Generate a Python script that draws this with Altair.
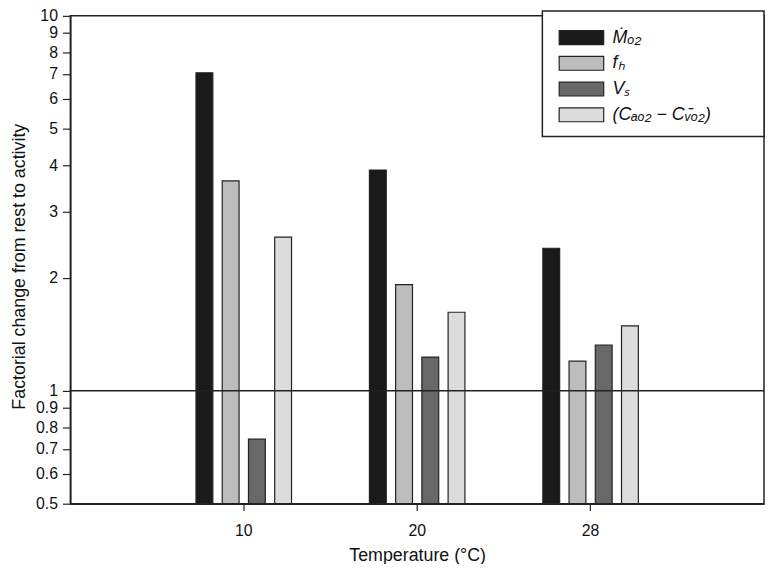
import altair as alt
import pandas as pd

temps = ["10", "20", "28"]
series = ["Ṁₒ₂", "fₕ", "Vₛ", "(Cₐₒ₂ − Cᵥ̄ₒ₂)"]
mo2 = [7.05, 3.88, 2.40]
fh = [3.63, 1.92, 1.20]
vs = [0.743, 1.23, 1.325]
cav = [2.57, 1.62, 1.49]
colors = ["#1a1a1a", "#bdbdbd", "#686868", "#dcdcdc"]
y_ticks = [0.5, 0.6, 0.7, 0.8, 0.9, 1, 2, 3, 4, 5, 6, 7, 8, 9, 10]

rows = []
for s, vals in zip(series, [mo2, fh, vs, cav]):
    for t, v in zip(temps, vals):
        rows.append({"temp": t, "series": s, "value": v})
df = pd.DataFrame(rows)

FONT = "Liberation Sans"
ink = "#222222"

yscale = alt.Scale(type="log", domain=[0.5, 10], nice=False)

bars = alt.Chart(df).mark_bar(stroke=ink, strokeWidth=1.2).encode(
    x=alt.X("temp:N", sort=temps,
            scale=alt.Scale(paddingInner=0.395, paddingOuter=0.6975),
            axis=alt.Axis(title="Temperature (°C)", labelAngle=0, tickSize=7,
                          labelPadding=12, titlePadding=8, labelFontSize=16,
                          titleFontSize=18)),
    xOffset=alt.XOffset("series:N", sort=series,
                        scale=alt.Scale(paddingInner=0.358, paddingOuter=0.179)),
    y=alt.Y("value:Q", scale=yscale,
            axis=alt.Axis(title="Factorial change from rest to activity",
                          values=y_ticks, format="~g", tickSize=8, labelPadding=5,
                          labelFontSize=16, titleFontSize=18,
                          titleAngle=-90, titleX=-46, titleY=253,
                          titleBaseline="alphabetic", titleAlign="center")),
    y2=alt.datum(0.5),
    color=alt.Color("series:N", sort=series,
                    scale=alt.Scale(domain=series, range=colors),
                    legend=alt.Legend(orient="none", legendX=507.5, legendY=13,
                                      title=None, padding=0,
                                      symbolType="M-3.214,-1L3.214,-1L3.214,1L-3.214,1Z",
                                      symbolSize=196, symbolStrokeColor=ink,
                                      symbolStrokeWidth=1.2, symbolOpacity=1,
                                      labelFontSize=18, labelFontStyle="italic",
                                      labelOffset=22.5, rowPadding=6, labelLimit=400)),
)

rule = alt.Chart(pd.DataFrame({"y": [1]})).mark_rule(color=ink, strokeWidth=1.5).encode(
    y=alt.Y("y:Q", scale=yscale)
)

legend_box = alt.Chart(pd.DataFrame({"k": [0]})).mark_rect(
    fill="white", stroke=ink, strokeWidth=1.5
).encode(
    x=alt.value(477), x2=alt.value(701), y=alt.value(-5), y2=alt.value(122)
)

chart = alt.layer(bars, rule, legend_box).properties(
    width=701, height=493,
    autosize=alt.AutoSizeParams(type="none"),
    padding={"left": 63, "top": 5, "right": 1, "bottom": 58},
).configure(font=FONT).configure_view(
    stroke=ink, strokeWidth=1.5
).configure_axis(
    grid=False, domainColor=ink, domainWidth=1.5, tickColor=ink, tickWidth=1.2,
    labelColor="#111", titleColor="#111", labelFont=FONT, titleFont=FONT,
    titleFontWeight="normal"
).configure_legend(
    labelFont=FONT, labelColor="#111"
)

chart.save("out.html", embed_options={"renderer": "svg", "actions": False})
